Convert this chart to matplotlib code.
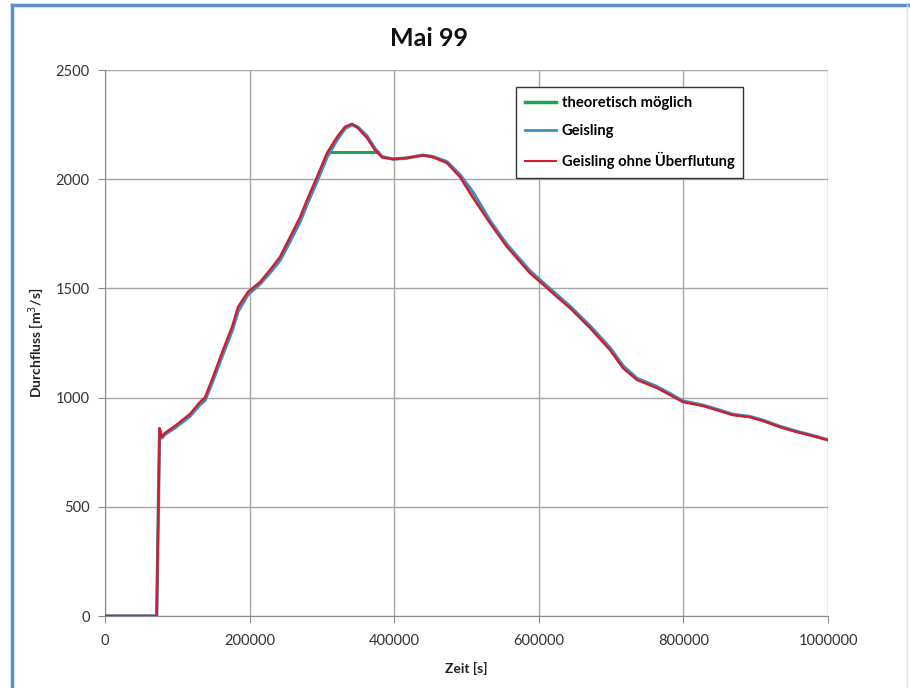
import matplotlib
matplotlib.use("Agg")
import matplotlib.pyplot as plt
from matplotlib.lines import Line2D

plt.rcParams['font.family'] = ['Lato', 'DejaVu Sans']

# Zeit [s]
zeit = [0, 71500, 75500, 78500, 83000, 96800, 117600, 131400, 138300, 149400,
        163200, 175700, 184000, 197800, 214400, 228200, 242000, 255900, 269700,
        279400, 293200, 307100, 320900, 332000, 341600, 349900, 362400, 373400,
        383100, 398300, 417700, 439800, 453700, 473000, 491000, 509000, 532500,
        556000, 587800, 608600, 625200, 643200, 670800, 698500, 716500, 735800,
        763500, 781500, 799400, 827100, 846500, 868600, 892100, 910100, 933600,
        957100, 979300, 1000000]

# Durchfluss [m3/s]
ohne_ueberflutung = [0, 0, 860, 820, 838, 870, 925, 980, 1000, 1094,
                     1218, 1323, 1415, 1484, 1529, 1584, 1644, 1735, 1825,
                     1905, 2010, 2120, 2193, 2240, 2253, 2234, 2189, 2134,
                     2101, 2092, 2097, 2110, 2101, 2074, 2010, 1915, 1799,
                     1690, 1570, 1510, 1461, 1410, 1319, 1218, 1135, 1081,
                     1044, 1012, 980, 962, 943, 920, 911, 893, 865,
                     842, 824, 806]

geisling = [0, 0, 850, 815, 832, 862, 915, 968, 988, 1078,
            1200, 1305, 1395, 1472, 1520, 1572, 1628, 1715, 1805,
            1885, 1990, 2102, 2180, 2232, 2250, 2238, 2197, 2140,
            2103, 2092, 2097, 2110, 2103, 2080, 2020, 1940, 1810,
            1700, 1580, 1518, 1470, 1418, 1328, 1228, 1145, 1088,
            1050, 1018, 984, 965, 946, 923, 913, 896, 868,
            845, 826, 806]

theo_zeit = [309000, 377000]
theo_wert = [2124, 2124]

x_ticks = [0, 200000, 400000, 600000, 800000, 1000000]
y_ticks = [0, 500, 1000, 1500, 2000, 2500]

fig = plt.figure(figsize=(9.1, 6.88), dpi=100)
ax = fig.add_axes([105 / 910, 72 / 688, 723 / 910, 546 / 688])

c_green = '#1fa550'
c_blue = '#3b8fbf'
c_red = '#cf1f2e'

ax.plot(theo_zeit, theo_wert, color=c_green, lw=2.2, zorder=3)
ax.plot(zeit, geisling, color=c_blue, lw=2.4, zorder=4)
ax.plot(zeit, ohne_ueberflutung, color=c_red, lw=1.8, zorder=5)

ax.set_xlim(0, 1000000)
ax.set_ylim(0, 2500)
ax.set_xticks(x_ticks)
ax.set_yticks(y_ticks)
ax.set_xticklabels([str(t) for t in x_ticks])
ax.grid(True, color='#a8a8a8', lw=1)
ax.set_axisbelow(True)
for s in ['top', 'right']:
    ax.spines[s].set_visible(False)
for s in ['left', 'bottom']:
    ax.spines[s].set_color('#8c8c8c')
ax.tick_params(colors='#8c8c8c', length=5, labelcolor='#333333', labelsize=10.5)
ax.tick_params(axis='x', pad=8)
ax.tick_params(axis='y', pad=6)

ax.set_xlabel('Zeit [s]', fontsize=10, fontweight='bold', color='#222222', labelpad=10)
ax.set_ylabel('Durchfluss [m$^3$/s]', fontsize=10, fontweight='bold', color='#222222', labelpad=6)

fig.text(429 / 910, 1 - 38 / 688, 'Mai 99', fontsize=18, fontweight='bold',
         ha='center', va='center', color='#111111')

handles = [Line2D([], [], color=c_green, lw=2.5),
           Line2D([], [], color=c_blue, lw=2),
           Line2D([], [], color=c_red, lw=1.5)]
labels = ['theoretisch möglich', 'Geisling', 'Geisling ohne Überflutung']
leg = ax.legend(handles, labels, loc='upper left',
                bbox_to_anchor=(516 / 910, 1 - 87 / 688), bbox_transform=fig.transFigure,
                borderaxespad=0, fancybox=False, framealpha=1, edgecolor='#333333',
                handlelength=2.1, handletextpad=0.4, labelspacing=0.95, borderpad=0.6,
                prop={'weight': 'bold', 'size': 10.6})
leg.get_frame().set_linewidth(1)

# chart frame
fig.add_artist(Line2D([12 / 910, 12 / 910], [0, 1 - 5 / 688], color='#5b8fcf', lw=2.5))
fig.add_artist(Line2D([12 / 910, 1], [1 - 5 / 688, 1 - 5 / 688], color='#5b8fcf', lw=2.5))
fig.add_artist(Line2D([907 / 910, 907 / 910], [0, 1 - 5 / 688], color='#e0e0e0', lw=1))

fig.savefig('out.png', dpi=100)
